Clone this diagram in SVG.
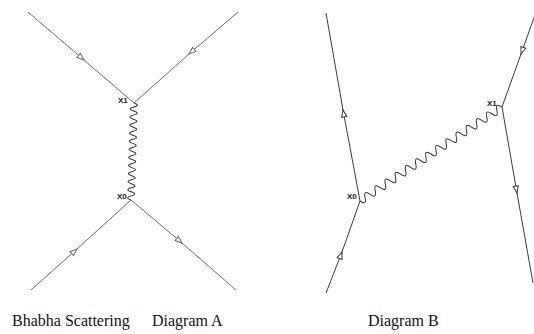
<svg xmlns="http://www.w3.org/2000/svg" width="534" height="334" viewBox="0 0 534 334">
  <style>
    .fa { fill: none; stroke: #6a6a6a; stroke-width: 1; marker-mid: url(#arrA); }
    .fb { fill: none; stroke: #3a3a3a; stroke-width: 1; marker-mid: url(#arrB); }
    .ph { fill: none; stroke: #333; stroke-width: 1; }
    .lbl { font-family: "Liberation Sans", Arial, sans-serif; font-size: 8px; font-weight: bold; fill: #1a1a1a; }
    .cap { font-family: "Liberation Serif", "Times New Roman", serif; font-size: 16px; fill: #111; }
  </style>
  <defs>
    <marker id="arrA" markerUnits="userSpaceOnUse" markerWidth="12" markerHeight="12" refX="3" refY="0" viewBox="-8 -4 12 8" orient="auto" overflow="visible">
      <path d="M3,0 L-4,-2.6 L-4,2.6 Z" fill="#fff" stroke="#6a6a6a" stroke-width="1"/>
    </marker>
    <marker id="arrB" markerUnits="userSpaceOnUse" markerWidth="12" markerHeight="12" refX="3" refY="0" viewBox="-8 -4 12 8" orient="auto" overflow="visible">
      <path d="M3,0 L-4,-2.6 L-4,2.6 Z" fill="#fff" stroke="#3a3a3a" stroke-width="1"/>
    </marker>
  </defs>

  <g id="connectors">
    <!-- Diagram A fermion lines -->
    <path id="a-in-left" class="fa" d="M28,12 L84,60 L134,103"/>
    <path id="a-in-right" class="fa" d="M238,12 L189,54 L134,103"/>
    <path id="a-low-left" class="fa" d="M31,290 L77,249 L131,200"/>
    <path id="a-low-right" class="fa" d="M131,200 L182,243 L236,290"/>
    <!-- Diagram A photon -->
    <path id="a-photon" class="ph" transform="translate(134,103) rotate(91.77)" d="M0,0 q2.02,-7 4.04,0 t4.04,0 t4.04,0 t4.04,0 t4.04,0 t4.04,0 t4.04,0 t4.04,0 t4.04,0 t4.04,0 t4.04,0 t4.04,0 t4.04,0 t4.04,0 t4.04,0 t4.04,0 t4.04,0 t4.04,0 t4.04,0 t4.04,0 t4.04,0 t4.04,0 t4.04,0 t4.04,0"/>

    <!-- Diagram B fermion lines -->
    <path id="b-left-top" class="fb" d="M360,201 L343,110 L326,13"/>
    <path id="b-left-bottom" class="fb" d="M326,293 L342,252 L360,201"/>
    <path id="b-right-top" class="fb" d="M536,12 L521,54 L502,107"/>
    <path id="b-right-bottom" class="fb" d="M502,107 L517,193 L533,283"/>
    <!-- Diagram B photon -->
    <path id="b-photon" class="ph" transform="translate(360,201) rotate(-33.5)" d="M0,0 q3.04,8 6.08,0 t6.08,0 t6.08,0 t6.08,0 t6.08,0 t6.08,0 t6.08,0 t6.08,0 t6.08,0 t6.08,0 t6.08,0 t6.08,0 t6.08,0 t6.08,0 t6.08,0 t6.08,0 t6.08,0 t6.08,0 t6.08,0 t6.08,0 t6.08,0 t6.08,0 t6.08,0 t6.08,0 t6.08,0 t6.08,0 t6.08,0 t6.08,0"/>
  </g>

  <g id="a-x1"><text class="lbl" x="118" y="103">X1</text></g>
  <g id="a-x0"><text class="lbl" x="117" y="199">X0</text></g>
  <g id="b-x0"><text class="lbl" x="347" y="199">X0</text></g>
  <g id="b-x1"><text class="lbl" x="487" y="106">X1</text></g>

  <g id="captions">
    <text class="cap" x="12" y="326">Bhabha Scattering</text>
    <text class="cap" x="152" y="326">Diagram A</text>
    <text class="cap" x="368" y="326">Diagram B</text>
  </g>
</svg>
